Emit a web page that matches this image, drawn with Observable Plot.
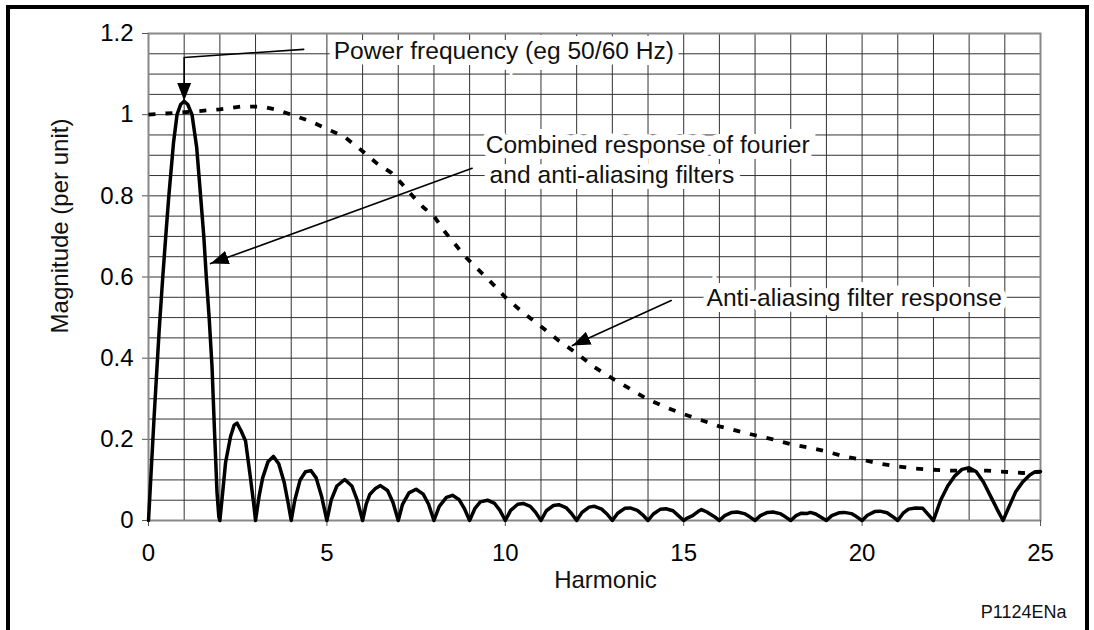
<!DOCTYPE html>
<html><head><meta charset="utf-8">
<script src="https://cdn.jsdelivr.net/npm/d3@7"></script>
<script src="https://cdn.jsdelivr.net/npm/@observablehq/plot@0.6"></script>
<style>
html,body{margin:0;padding:0;background:#fff;overflow:hidden;}
#wrap{position:relative;width:1094px;height:630px;}
#chart{position:absolute;left:0;top:0;}
#border{position:absolute;left:6px;top:5px;width:1075px;height:700px;border:4px solid #000;border-bottom:none;pointer-events:none;}
</style></head><body>
<div id="wrap"><div id="chart"></div><div id="border"></div></div>
<script>
// ---- data ----
const combinedHarmonic = [
  0, 0.08, 0.16, 0.22, 0.3, 0.4, 0.5, 0.57, 0.7, 0.8, 0.9, 1.0, 1.1, 1.22, 1.35, 1.46, 1.55, 1.62, 1.7, 1.78, 1.85, 1.92, 1.97, 2.0,
  2.08, 2.16, 2.3, 2.4, 2.48, 2.6, 2.72, 2.85, 2.95, 3.0,
  3.1, 3.2, 3.35, 3.5, 3.65, 3.8, 3.92, 4.0,
  4.1, 4.25, 4.4, 4.55, 4.7, 4.85, 5.0,
  5.12, 5.28, 5.5, 5.7, 5.85, 6.0,
  6.1, 6.2, 6.35, 6.5, 6.7, 6.85, 7.0,
  7.12, 7.3, 7.5, 7.7, 7.85, 8.0,
  8.15, 8.35, 8.52, 8.7, 8.85, 9.0,
  9.15, 9.3, 9.5, 9.7, 9.85, 10.0,
  10.15, 10.35, 10.5, 10.7, 10.85, 11.0,
  11.15, 11.35, 11.5, 11.7, 11.85, 12.0,
  12.15, 12.35, 12.5, 12.7, 12.85, 13.0,
  13.15, 13.35, 13.5, 13.7, 13.85, 14.0,
  14.15, 14.35, 14.5, 14.7, 14.85, 15.0,
  15.1, 15.25, 15.4, 15.5, 15.65, 15.85, 16.0,
  16.15, 16.35, 16.5, 16.7, 16.85, 17.0,
  17.15, 17.35, 17.5, 17.7, 17.85, 18.0,
  18.15, 18.3, 18.45, 18.55, 18.7, 18.85, 19.0,
  19.15, 19.35, 19.5, 19.7, 19.85, 20.0,
  20.15, 20.35, 20.5, 20.7, 20.85, 21.0,
  21.15, 21.3, 21.5, 21.7, 21.85, 22.0,
  22.2, 22.4, 22.6, 22.8, 23.0, 23.2, 23.4, 23.6, 23.8, 23.95,
  24.1, 24.3, 24.5, 24.7, 24.85, 25.0
];
const combinedMagnitude = [
  0, 0.13, 0.26, 0.35, 0.47, 0.6, 0.72, 0.8, 0.93, 1.0, 1.025, 1.033, 1.025, 1.0, 0.92, 0.8, 0.7, 0.6, 0.5, 0.38, 0.22, 0.07, 0.01, 0,
  0.07, 0.143, 0.207, 0.235, 0.24, 0.22, 0.196, 0.11, 0.04, 0,
  0.06, 0.105, 0.145, 0.158, 0.14, 0.095, 0.04, 0,
  0.05, 0.1, 0.12, 0.123, 0.105, 0.06, 0,
  0.05, 0.085, 0.101, 0.085, 0.05, 0,
  0.04, 0.064, 0.078, 0.086, 0.074, 0.045, 0,
  0.04, 0.068, 0.077, 0.065, 0.04, 0,
  0.035, 0.057, 0.062, 0.052, 0.03, 0,
  0.03, 0.046, 0.05, 0.042, 0.025, 0,
  0.025, 0.04, 0.042, 0.035, 0.02, 0,
  0.024, 0.037, 0.039, 0.032, 0.018, 0,
  0.02, 0.033, 0.035, 0.028, 0.016, 0,
  0.018, 0.03, 0.031, 0.025, 0.014, 0,
  0.016, 0.028, 0.029, 0.024, 0.012, 0,
  0.006, 0.012, 0.022, 0.027, 0.021, 0.01, 0,
  0.012, 0.02, 0.021, 0.017, 0.009, 0,
  0.012, 0.02, 0.021, 0.017, 0.009, 0,
  0.012, 0.018, 0.017, 0.02, 0.016, 0.008, 0,
  0.012, 0.019, 0.02, 0.017, 0.009, 0,
  0.013, 0.022, 0.023, 0.019, 0.01, 0,
  0.018, 0.028, 0.031, 0.03, 0.015, 0,
  0.05, 0.085, 0.11, 0.126, 0.13, 0.12, 0.095, 0.06, 0.025, 0,
  0.03, 0.07, 0.095, 0.112, 0.12, 0.121
];
const filterHarmonic = [0, 1, 2, 2.6, 3.2, 3.6, 4, 4.5, 5, 5.5, 6, 6.4, 6.8, 7.1, 7.4, 7.7, 8, 8.3, 8.6, 8.9, 9.2, 9.5, 9.7, 10, 10.5, 11, 11.5, 12, 12.5, 13, 13.5, 14, 14.5, 15, 15.5, 16, 16.5, 17, 17.5, 18, 18.5, 19, 19.5, 20, 20.5, 21, 21.5, 22, 22.5, 23, 23.5, 24, 24.5, 25];
const filterMagnitude = [1.0, 1.006, 1.013, 1.02, 1.02, 1.012, 1.0, 0.985, 0.965, 0.945, 0.91, 0.88, 0.857, 0.83, 0.8, 0.772, 0.75, 0.712, 0.68, 0.648, 0.622, 0.596, 0.578, 0.55, 0.512, 0.478, 0.443, 0.412, 0.378, 0.35, 0.324, 0.298, 0.279, 0.262, 0.247, 0.232, 0.221, 0.21, 0.2, 0.188, 0.18, 0.17, 0.158, 0.15, 0.14, 0.133, 0.128, 0.125, 0.123, 0.123, 0.123, 0.12, 0.117, 0.12];

const xTicks = [0, 5, 10, 15, 20, 25];
const xTickLabels = ["0", "5", "10", "15", "20", "25"];
const yTicks = [0, 0.2, 0.4, 0.6, 0.8, 1, 1.2];
const yTickLabels = ["0", "0.2", "0.4", "0.6", "0.8", "1", "1.2"];

const annotationText = ["Power frequency (eg 50/60 Hz)", "Combined response of fourier", "and anti-aliasing filters", "Anti-aliasing filter response"];
const annotationHarmonic = [5.19, 9.45, 9.56, 15.64];
const annotationMagnitude = [1.156, 0.924, 0.852, 0.547];

const leaderPowerHarmonic = [4.35, 1.0, 1.0];
const leaderPowerMagnitude = [1.161, 1.141, 1.034];
const leaderCombinedHarmonic = [9.07, 1.74];
const leaderCombinedMagnitude = [0.868, 0.633];
const leaderFilterHarmonic = [14.65, 11.88];
const leaderFilterMagnitude = [0.542, 0.431];

// ---- tables ----
const zip = (hs, ms) => hs.map((h, i) => ({h, m: ms[i]}));
const combined = zip(combinedHarmonic, combinedMagnitude);
const filter = zip(filterHarmonic, filterMagnitude);
const annotations = annotationText.map((t, i) => ({text: t, h: annotationHarmonic[i], m: annotationMagnitude[i]}));
const leaders = [
  zip(leaderPowerHarmonic, leaderPowerMagnitude),
  zip(leaderCombinedHarmonic, leaderCombinedMagnitude),
  zip(leaderFilterHarmonic, leaderFilterMagnitude)
];

function triMarker(color) {
  const m = d3.create("svg:marker")
    .attr("viewBox", "-18 -7 18 14")
    .attr("refX", 0).attr("refY", 0)
    .attr("markerWidth", 18).attr("markerHeight", 14)
    .attr("markerUnits", "userSpaceOnUse")
    .attr("orient", "auto")
    .attr("fill", "#000").attr("stroke", "none");
  m.append("path").attr("d", "M-18,-7L0,0L-18,7Z");
  return m.node();
}

function build(marker) {
  return Plot.plot({
    width: 1094, height: 630,
    marginLeft: 148, marginRight: 54, marginTop: 33, marginBottom: 110,
    style: {fontFamily: "'Liberation Sans', Arial, sans-serif", fontSize: "24px", color: "#000", background: "transparent"},
    x: {domain: [0, 25]},
    y: {domain: [0, 1.2]},
    marks: [
      Plot.gridX(d3.range(0, 26), {stroke: "#333", strokeOpacity: 1, strokeWidth: 1}),
      Plot.gridY(d3.range(0, 25).map(i => i * 0.05), {stroke: "#333", strokeOpacity: 1, strokeWidth: 1}),
      Plot.frame({stroke: "#888", strokeWidth: 2}),
      Plot.axisX(xTicks, {tickFormat: (d, i) => xTickLabels[i], tickSize: 6, tickPadding: 17, label: null, stroke: "#555"}),
      Plot.axisY(yTicks, {tickFormat: (d, i) => yTickLabels[i], tickSize: 6, tickPadding: 9, label: null, stroke: "#555"}),
      Plot.text(annotations, {x: "h", y: "m", text: "text", textAnchor: "start", fontSize: 24.6, fill: "#111", stroke: "white", strokeWidth: 12, strokeLinejoin: "miter"}),
      Plot.line(filter, {x: "h", y: "m", stroke: "#000", strokeWidth: 3.8, strokeDasharray: "7,10", strokeLinecap: "butt"}),
      Plot.line(combined, {x: "h", y: "m", stroke: "#000", strokeWidth: 3.5, strokeLinejoin: "round"}),
      ...leaders.map(L => Plot.line(L, {x: "h", y: "m", stroke: "#000", strokeWidth: 1.6, markerEnd: marker})),
      Plot.text(["Harmonic"], {frameAnchor: "bottom", textAnchor: "middle", dx: 11, dy: 67, fill: "#111"}),
      Plot.text(["Magnitude (per unit)"], {frameAnchor: "left", textAnchor: "middle", rotate: -90, dx: -88, dy: -51, fill: "#111"}),
      Plot.text(["P1124ENa"], {frameAnchor: "bottom-right", dx: 26, dy: 97, textAnchor: "end", fontSize: 18, fill: "#111"})
    ]
  });
}

let chart;
try { chart = build(triMarker); } catch (e) { chart = build("arrow"); }
document.getElementById("chart").appendChild(chart);
</script></body></html>
